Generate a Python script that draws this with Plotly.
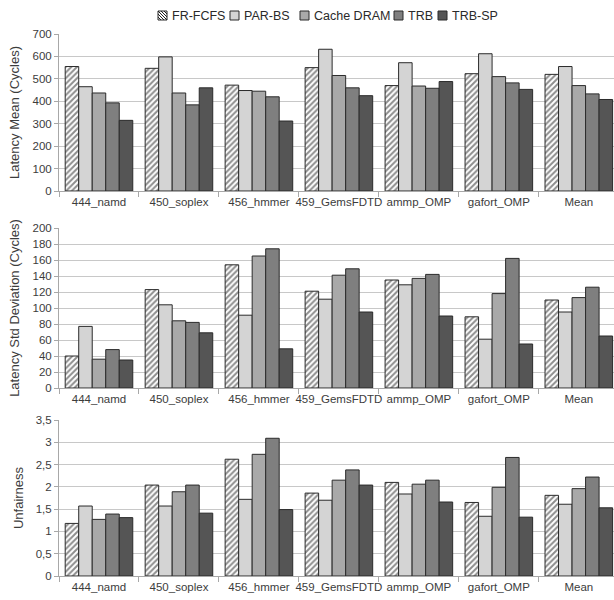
import plotly.graph_objects as go
from plotly.subplots import make_subplots

categories = ["444_namd", "450_soplex", "456_hmmer", "459_GemsFDTD", "ammp_OMP", "gafort_OMP", "Mean"]
series_names = ["FR-FCFS", "PAR-BS", "Cache DRAM", "TRB", "TRB-SP"]

lat_mean = {
    "FR-FCFS":    [555, 547, 472, 550, 470, 523, 520],
    "PAR-BS":     [465, 598, 448, 632, 572, 612, 555],
    "Cache DRAM": [437, 437, 445, 515, 468, 510, 470],
    "TRB":        [393, 384, 420, 460, 458, 482, 433],
    "TRB-SP":     [315, 460, 312, 425, 488, 453, 408],
}
lat_std = {
    "FR-FCFS":    [40, 123, 154, 121, 135, 89, 110],
    "PAR-BS":     [77, 104, 91, 111, 129, 61, 95],
    "Cache DRAM": [36, 84, 165, 141, 137, 118, 113],
    "TRB":        [48, 82, 174, 149, 142, 162, 126],
    "TRB-SP":     [35, 69, 49, 95, 90, 55, 65],
}
unfair = {
    "FR-FCFS":    [1.18, 2.04, 2.62, 1.86, 2.10, 1.65, 1.81],
    "PAR-BS":     [1.57, 1.57, 1.72, 1.70, 1.84, 1.34, 1.61],
    "Cache DRAM": [1.27, 1.89, 2.73, 2.15, 2.06, 1.99, 1.96],
    "TRB":        [1.39, 2.04, 3.09, 2.38, 2.15, 2.66, 2.22],
    "TRB-SP":     [1.31, 1.41, 1.49, 2.04, 1.66, 1.32, 1.53],
}

y_titles = ["Latency Mean (Cycles)", "Latency Std Deviation (Cycles)", "Unfairness"]
y_ranges = [[0, 700], [0, 200], [0, 3.5]]
y_dticks = [100, 20, 0.5]

colors = {"FR-FCFS": "#ffffff", "PAR-BS": "#d4d4d4", "Cache DRAM": "#a9a9a9",
          "TRB": "#7f7f7f", "TRB-SP": "#555555"}
outline = "#2b2b2b"

W, H = 614, 600
fig = make_subplots(rows=3, cols=1)

for r, data in enumerate([lat_mean, lat_std, unfair], start=1):
    for name in series_names:
        pattern = dict(shape="/", fgcolor="#1c1c1c", bgcolor="#ffffff", size=4, solidity=0.5) if name == "FR-FCFS" else None
        fig.add_trace(go.Bar(
            x=categories, y=data[name], name=name,
            marker=dict(color=colors[name], line=dict(color=outline, width=1),
                        pattern=pattern),
            showlegend=False,
        ), row=r, col=1)

# plot-area pixel bounds (top, bottom) for each panel
panel_px = [(34, 191), (228, 388), (420, 576)]
tick_font = dict(family="Liberation Sans, Arial, sans-serif", size=11.5, color="#3c3c3c")
for i in range(3):
    xa = "xaxis" if i == 0 else f"xaxis{i+1}"
    ya = "yaxis" if i == 0 else f"yaxis{i+1}"
    top, bot = panel_px[i]
    fig.layout[xa].update(
        domain=[59 / W, 1], range=[-0.5, 6.44], type="category",
        showline=True, linecolor="#a8a8a8", linewidth=1,
        ticks="outside", tickson="boundaries", ticklen=5, tickcolor="#a8a8a8",
        tickfont=tick_font, showgrid=False, tickangle=0, automargin=False,
    )
    fig.layout[ya].update(
        domain=[1 - bot / H, 1 - top / H], range=y_ranges[i], dtick=y_dticks[i],
        showline=True, linecolor="#a8a8a8", linewidth=1,
        ticks="outside", ticklen=4, tickcolor="#a8a8a8",
        showgrid=True, gridcolor="#c8c8c8", gridwidth=1,
        tickfont=tick_font, zeroline=False, automargin=False,
        title=dict(text=y_titles[i], font=dict(family="Liberation Sans, Arial, sans-serif", size=13, color="#3c3c3c"), standoff=9),
    )

# Legend (drawn as layout decoration)
def px(x, y):
    return x / W, 1 - y / H

legend_x = [158, 230, 300, 394, 438]
icon_s = 9
icon_top = 11
shapes = []
annotations = []
for name, x0 in zip(series_names, legend_x):
    ax0, ay0 = px(x0, icon_top)
    ax1, ay1 = px(x0 + icon_s, icon_top + icon_s)
    shapes.append(dict(type="rect", xref="paper", yref="paper", x0=ax0, x1=ax1, y0=ay1, y1=ay0,
                       fillcolor=colors[name], line=dict(color=outline, width=1)))
    if name == "FR-FCFS":
        for c in [3, 6, 9, 12, 15]:
            xs = max(0, c - icon_s)
            xe = min(icon_s, c)
            p0 = px(x0 + xs, icon_top + icon_s - (c - xs))
            p1 = px(x0 + xe, icon_top + icon_s - (c - xe))
            shapes.append(dict(type="line", xref="paper", yref="paper",
                               x0=p0[0], y0=p0[1], x1=p1[0], y1=p1[1],
                               line=dict(color="#222222", width=1)))
    tx, ty = px(x0 + icon_s + 3, icon_top + icon_s / 2)
    annotations.append(dict(text=name, xref="paper", yref="paper", x=tx, y=ty,
                            xanchor="left", yanchor="middle", showarrow=False,
                            font=dict(family="Liberation Sans, Arial, sans-serif", size=12.5, color="#2a2a2a")))

fig.update_layout(
    width=W, height=H,
    margin=dict(l=0, r=0, t=0, b=0),
    paper_bgcolor="white", plot_bgcolor="white",
    barmode="group", bargap=0.155, bargroupgap=0,
    separators=", ",
    showlegend=False,
    shapes=shapes, annotations=annotations,
)

fig.write_html("out.html")
